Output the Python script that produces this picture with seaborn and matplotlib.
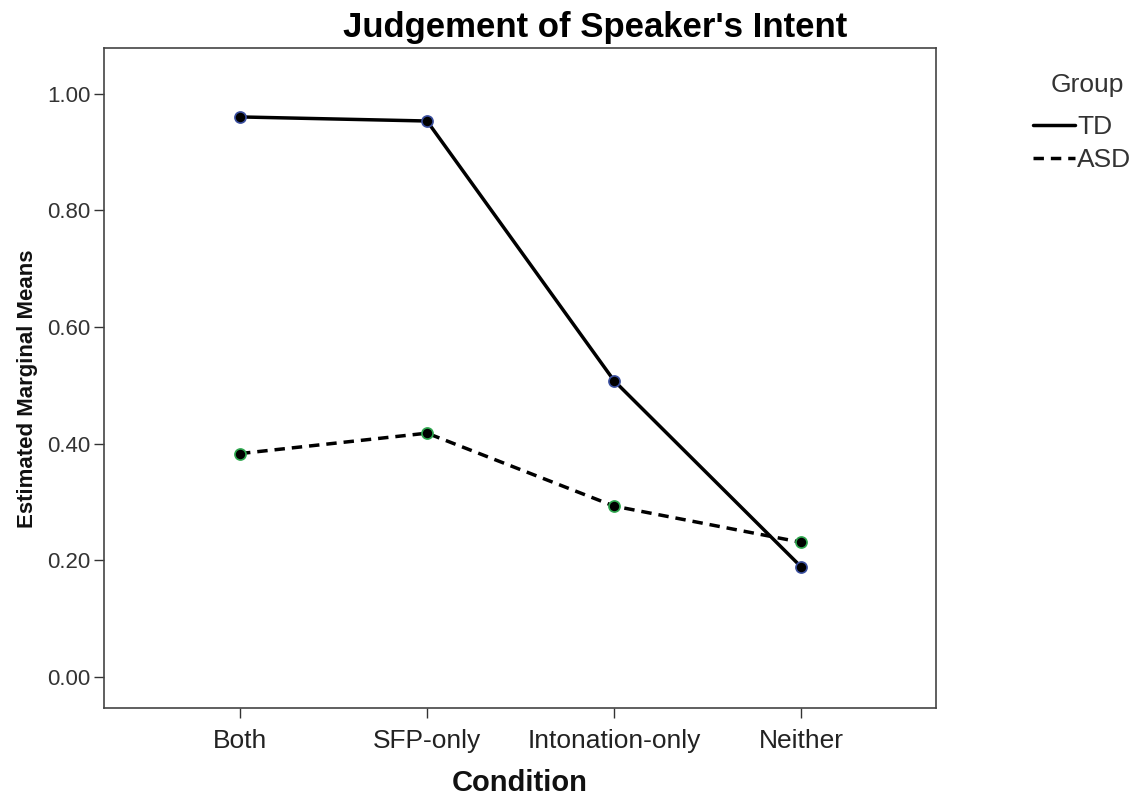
#!/usr/bin/env python3
import matplotlib
matplotlib.use('Agg')
import matplotlib.pyplot as plt
from matplotlib.lines import Line2D
import pandas as pd
import seaborn as sns

sns.set_theme(style='white')
plt.rcParams['font.family'] = ['Liberation Sans', 'DejaVu Sans']

conditions = ['Both', 'SFP-only', 'Intonation-only', 'Neither']
td_means = [0.960, 0.953, 0.508, 0.189]
asd_means = [0.383, 0.418, 0.293, 0.231]
groups = ['TD', 'ASD']

df = pd.DataFrame({
    'Condition': conditions * 2,
    'Mean': td_means + asd_means,
    'Group': ['TD'] * 4 + ['ASD'] * 4,
})
df['x'] = df['Condition'].map({c: i for i, c in enumerate(conditions)})

fig = plt.figure(figsize=(11.46, 7.96), dpi=100)
ax = fig.add_axes([0.0908, 0.1106, 0.726, 0.829])

sns.lineplot(
    data=df, x='x', y='Mean', hue='Group', style='Group',
    hue_order=groups, style_order=groups,
    palette={'TD': 'black', 'ASD': 'black'},
    dashes={'TD': '', 'ASD': (3, 2)},
    markers={'TD': 'o', 'ASD': 'o'},
    markersize=8, linewidth=2.5, ax=ax, legend=False,
)
edge = {0: '#3a4fa0', 1: '#2fa84f'}
for i, ln in enumerate(ax.lines[:2]):
    ln.set_markerfacecolor('black')
    ln.set_markeredgecolor(edge[i])
    ln.set_markeredgewidth(1.2)

ticks = [0, 0.2, 0.4, 0.6, 0.8, 1.0]
ax.set_xlim(-0.727, 3.722)
ax.set_ylim(-0.053, 1.078)
ax.set_xticks(range(len(conditions)))
ax.set_xticklabels(conditions, fontsize=19, color='#222222')
ax.set_yticks(ticks)
ax.set_yticklabels([f'{v:.2f}' for v in ticks], fontsize=16, color='#333333')
ax.tick_params(axis='both', direction='out', length=7, width=1, color='#333333',
               bottom=True, left=True)
ax.tick_params(axis='x', pad=8)
ax.tick_params(axis='y', pad=3)
for s in ax.spines.values():
    s.set_color('#444444')
    s.set_linewidth(1.2)

ax.set_xlabel('Condition', fontsize=21, fontweight='bold', labelpad=12, color='#111111')
ax.set_ylabel('Estimated Marginal Means', fontsize=16, fontweight='bold',
              family=['Liberation Sans Narrow', 'Liberation Sans'], color='#111111')
ax.yaxis.set_label_coords(-0.079, 0.483)
fig.text(0.519, 0.966, "Judgement of Speaker's Intent", fontsize=25,
         fontweight='bold', ha='center', va='center', color='black')

# legend title drawn separately to get the wider gap above the entries
fig.text(0.9485, 1 - 85 / 796, 'Group', fontsize=19, ha='center', va='center',
         color='#333333')
handles = [Line2D([], [], color='black', lw=2.5),
           Line2D([], [], color='black', lw=2.5, dashes=(3, 2))]
leg = fig.legend(handles, groups, loc='upper left',
                 bbox_to_anchor=(0.901, 1 - 115 / 796), frameon=False, fontsize=19,
                 handlelength=1.6, handletextpad=0.1,
                 labelspacing=0.35, borderpad=0, borderaxespad=0)
for t in leg.get_texts():
    t.set_color('#333333')

fig.savefig('out.png', dpi=100)
